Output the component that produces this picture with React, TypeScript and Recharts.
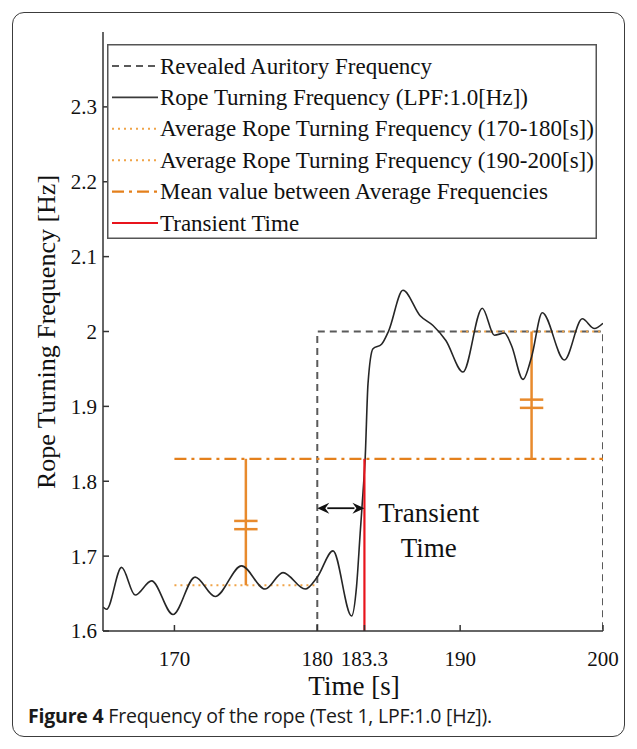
import React from "react"
import { LineChart, Line, XAxis, YAxis, ReferenceLine, ReferenceDot, Label } from "recharts"

// rope turning frequency (LPF 1.0 Hz)
const curveTime = [
  165.0, 165.25, 166.3, 167.25, 168.4, 169.9, 171.45, 172.85, 174.7, 176.35, 177.6, 179.15, 180.0,
  181.1, 182.4, 182.75, 183.0, 183.2, 183.35, 183.55, 183.9, 184.5, 185.0, 186.0, 187.2, 188.1,
  189.0, 190.2, 191.55, 192.4, 193.1, 193.6, 194.4, 195.0, 195.75, 197.3, 198.55, 199.4, 200.0,
]
const curveFreq = [
  1.632, 1.629, 1.685, 1.648, 1.667, 1.622, 1.672, 1.646, 1.687, 1.656, 1.678, 1.656, 1.672,
  1.707, 1.62, 1.66, 1.73, 1.785, 1.83, 1.93, 1.977, 1.983, 2.001, 2.055, 2.021, 2.008,
  1.988, 1.946, 2.031, 1.995, 1.998, 1.981, 1.936, 1.966, 2.025, 1.962, 2.017, 2.004, 2.011,
]

const revealedTime = [180, 180, 200, 200]
const revealedFreq = [1.6, 2.0, 2.0, 1.6]
const avgEarlyTime = [170, 180]
const avgEarlyFreq = [1.661, 1.661]
const avgLateTime = [190, 200]
const avgLateFreq = [2.0, 2.0]
const meanTime = [170, 200]
const meanFreq = [1.83, 1.83]
const transientTime = [183.3, 183.3]
const transientFreq = [1.6, 1.83]

// difference markers between averages and mean ("=" signs)
const bracketTime = [175, 195]
const bracketFrom = [1.661, 2.0]
const bracketMarks = [
  [1.747, 1.736],
  [1.909, 1.898],
]
const arrowFreq = 1.764

const xTicks = [170, 180, 183.3, 190, 200]
const yTicks = [1.6, 1.7, 1.8, 1.9, 2.0, 2.1, 2.2, 2.3]

const legendNames = [
  "Revealed Auritory Frequency",
  "Rope Turning Frequency (LPF:1.0[Hz])",
  "Average Rope Turning Frequency (170-180[s])",
  "Average Rope Turning Frequency (190-200[s])",
  "Mean value between Average Frequencies",
  "Transient Time",
]

const SERIF = "'Liberation Serif', 'Times New Roman', serif"
const GREY = "#5a5a5a"
const ORANGE_DOT = "#f0a448"
const ORANGE = "#e4801c"
const BRACKET = "#e88a2c"
const RED = "#e8141c"
const INK = "#262626"

const lineStyles = [
  { stroke: GREY, dash: "7 5", width: 2 },
  { stroke: "#3a3a3a", dash: undefined, width: 1.6 },
  { stroke: ORANGE_DOT, dash: "2 4", width: 2 },
  { stroke: ORANGE_DOT, dash: "2 4", width: 2 },
  { stroke: ORANGE, dash: "12 5 3 5", width: 2.2 },
  { stroke: RED, dash: undefined, width: 2.2 },
]

const rows = (ts: number[], fs: number[]) => ts.map((t, i) => ({ t, f: fs[i] }))

function LegendBox() {
  return (
    <svg width={490} height={195} style={{ display: "block", fontFamily: SERIF }}>
      <rect x={0.75} y={0.75} width={488.5} height={193.5} fill="#fff" stroke="#555" strokeWidth={1.5} />
      {legendNames.map((name, i) => {
        const y = 22 + i * 31.4
        const s = lineStyles[i]
        return (
          <g key={name}>
            <line x1={5} x2={51} y1={y} y2={y} stroke={s.stroke} strokeWidth={s.width} strokeDasharray={s.dash} />
            <text x={53} y={y + 7.5} fontFamily={SERIF} fontSize={23} fill="#111">
              {name}
            </text>
          </g>
        )
      })}
    </svg>
  )
}

function Arrow(props: any) {
  const { x1, y1, x2, y2 } = props
  const h = 10
  const w = 5.5
  return (
    <g>
      <line x1={x1 + h} y1={y1} x2={x2 - h} y2={y2} stroke="#111" strokeWidth={1.8} />
      <polygon points={`${x1},${y1} ${x1 + h + 2},${y1 - w} ${x1 + h - 2},${y1} ${x1 + h + 2},${y1 + w}`} fill="#111" />
      <polygon points={`${x2},${y2} ${x2 - h - 2},${y2 - w} ${x2 - h + 2},${y2} ${x2 - h - 2},${y2 + w}`} fill="#111" />
    </g>
  )
}

function TransientNote(props: any) {
  const { cx, cy } = props
  return (
    <g style={{ fontFamily: SERIF, fontSize: 27 }} fill="#111" textAnchor="middle">
      <text x={cx} y={cy}>Transient</text>
      <text x={cx} y={cy + 35}>Time</text>
    </g>
  )
}

export default function App() {
  return (
    <div style={{ position: "absolute", left: 0, top: 0, width: 637, height: 749, background: "#fff" }}>
      <div
        style={{
          position: "absolute",
          left: 12,
          top: 12,
          width: 611,
          height: 723,
          border: "1.5px solid #3c3c3c",
          borderRadius: 12,
        }}
      />
      <div style={{ position: "absolute", left: 0, top: 0 }}>
        <LineChart width={637} height={700} margin={{ top: 32, right: 34, left: 0, bottom: 0 }}>
          <XAxis
            dataKey="t"
            type="number"
            domain={[165, 200]}
            ticks={xTicks}
            allowDataOverflow
            height={69}
            stroke="#333"
            strokeWidth={1.5}
            tickSize={-6}
            tickMargin={26}
            tick={{ fill: "#111", fontSize: 21, fontFamily: SERIF }}
          >
            <Label
              content={() => (
                <text x={354} y={695} textAnchor="middle" style={{ fontFamily: SERIF, fontSize: 27 }} fill="#111">
                  Time [s]
                </text>
              )}
            />
          </XAxis>
          <YAxis
            dataKey="f"
            type="number"
            domain={[1.6, 2.4]}
            ticks={yTicks}
            allowDataOverflow
            width={103}
            stroke="#333"
            strokeWidth={1.5}
            tickSize={-6}
            tickMargin={12}
            tick={{ fill: "#111", fontSize: 21, fontFamily: SERIF }}
          >
            <Label
              content={() => (
                <text
                  x={46}
                  y={332}
                  transform="rotate(-90 46 332)"
                  textAnchor="middle"
                  dominantBaseline="central"
                  style={{ fontFamily: SERIF, fontSize: 26 }}
                  fill="#111"
                >
                  Rope Turning Frequency [Hz]
                </text>
              )}
            />
          </YAxis>

          <Line data={rows(revealedTime, revealedFreq)} dataKey="f" stroke={GREY} strokeWidth={2} strokeDasharray="7 5" dot={false} isAnimationActive={false} />
          <Line data={rows(avgEarlyTime, avgEarlyFreq)} dataKey="f" stroke={ORANGE_DOT} strokeWidth={2} strokeDasharray="2 4" dot={false} isAnimationActive={false} />
          <Line data={rows(avgLateTime, avgLateFreq)} dataKey="f" stroke={ORANGE_DOT} strokeWidth={2} strokeDasharray="2 4" dot={false} isAnimationActive={false} />
          <Line data={rows(meanTime, meanFreq)} dataKey="f" stroke={ORANGE} strokeWidth={2.2} strokeDasharray="12 5 3 5" dot={false} isAnimationActive={false} />

          {bracketTime.map((t, i) => (
            <ReferenceLine
              key={`b${i}`}
              segment={[{ x: t, y: bracketFrom[i] }, { x: t, y: meanFreq[0] }]}
              stroke={BRACKET}
              strokeWidth={2.5}
            />
          ))}
          {bracketTime.map((t, i) =>
            bracketMarks[i].map((m, j) => (
              <ReferenceLine
                key={`m${i}${j}`}
                segment={[{ x: t - 0.82, y: m }, { x: t + 0.82, y: m }]}
                stroke={BRACKET}
                strokeWidth={2.5}
              />
            ))
          )}

          <Line data={rows(curveTime, curveFreq)} dataKey="f" type="monotone" stroke={INK} strokeWidth={1.6} dot={false} isAnimationActive={false} />
          <Line data={rows(transientTime, transientFreq)} dataKey="f" stroke={RED} strokeWidth={2.2} dot={false} isAnimationActive={false} />

          <ReferenceLine
            segment={[{ x: revealedTime[0], y: arrowFreq }, { x: transientTime[0], y: arrowFreq }]}
            shape={Arrow}
          />
          <ReferenceDot x={187.8} y={1.745} r={0} shape={TransientNote} />
        </LineChart>
      </div>
      <div style={{ position: "absolute", left: 107, top: 44 }}>
        <LegendBox />
      </div>
      <div
        style={{
          position: "absolute",
          left: 28,
          top: 702,
          fontFamily: "'Open Sans', 'Noto Sans', sans-serif",
          fontSize: 19.5,
          color: "#1a1a1a",
          whiteSpace: "nowrap",
          letterSpacing: -0.2,
        }}
      >
        <b>Figure 4</b> Frequency of the rope (Test 1, LPF:1.0 [Hz]).
      </div>
    </div>
  )
}
